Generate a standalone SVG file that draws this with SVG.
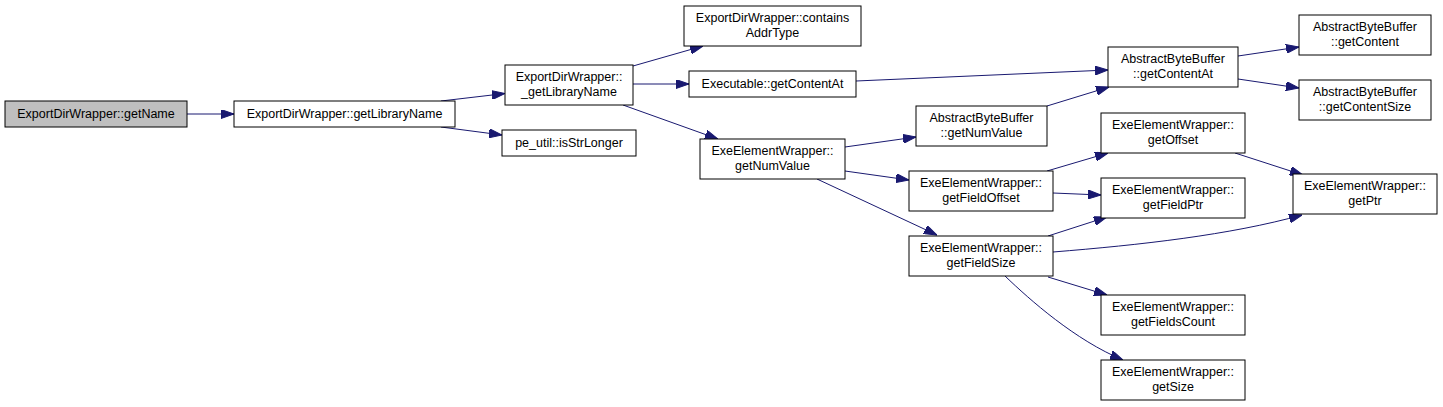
<svg xmlns="http://www.w3.org/2000/svg" width="1443" height="407" viewBox="0 0 1443 407">
<defs>
<marker id="arr" markerUnits="userSpaceOnUse" viewBox="0 0 13 9" refX="13" refY="4.5" markerWidth="13" markerHeight="9" orient="auto">
<path d="M0,0 L13,4.5 L0,9 z" fill="#191970" stroke="#191970" stroke-width="1"/>
</marker>
</defs>
<style>
.n rect{fill:#ffffff;stroke:#000000;stroke-width:1}
.n.root rect{fill:#bfbfbf}
.n text{font-family:"Liberation Sans",Arial,Helvetica,sans-serif;font-size:12.5px;fill:#000000;text-anchor:middle}
.e path{fill:none;stroke:#191970;stroke-width:1;marker-end:url(#arr)}
</style>
<rect width="1443" height="407" fill="#ffffff"/>
<g id="edges" class="e">
<path d="M187,114 L234,114"/>
<path d="M441,101 L505,93.5"/>
<path d="M441,127 L502,135"/>
<path d="M633,66 L703,46"/>
<path d="M633,84 L689,84"/>
<path d="M623,105 L718,139"/>
<path d="M856,81 L1108,70"/>
<path d="M1047,106 L1109,87"/>
<path d="M1238,56 L1299,47"/>
<path d="M1238,79 L1299,88"/>
<path d="M845,147 L916,137"/>
<path d="M845,171 L909,180"/>
<path d="M817,179 L937,235"/>
<path d="M1047,171 L1108,153"/>
<path d="M1053,193 L1101,195"/>
<path d="M1048,236 L1107,217"/>
<path d="M1053,252 C1140,245 1230,235 1302,215"/>
<path d="M1235,153 L1303,175"/>
<path d="M1048,277 L1107,295"/>
<path d="M1005,276 C1030,300 1075,340 1123,360"/>
</g>
<g id="n0" class="n root"><rect x="5" y="101" width="182" height="26"/><text x="96" y="118">ExportDirWrapper::getName</text></g>
<g id="n1" class="n"><rect x="234" y="101" width="221" height="26"/><text x="344.5" y="118">ExportDirWrapper::getLibraryName</text></g>
<g id="n2" class="n"><rect x="505" y="65" width="128" height="40"/><text x="569" y="81">ExportDirWrapper::</text><text x="569" y="96">_getLibraryName</text></g>
<g id="n3" class="n"><rect x="502" y="130" width="134" height="26"/><text x="569" y="147">pe_util::isStrLonger</text></g>
<g id="n4" class="n"><rect x="684" y="6" width="177" height="40"/><text x="772.5" y="22">ExportDirWrapper::contains</text><text x="772.5" y="37">AddrType</text></g>
<g id="n5" class="n"><rect x="689" y="71" width="167" height="26"/><text x="772.5" y="88">Executable::getContentAt</text></g>
<g id="n6" class="n"><rect x="700" y="139" width="145" height="40"/><text x="772.5" y="155">ExeElementWrapper::</text><text x="772.5" y="170">getNumValue</text></g>
<g id="n7" class="n"><rect x="1108" y="47" width="130" height="40"/><text x="1173" y="63">AbstractByteBuffer</text><text x="1173" y="78">::getContentAt</text></g>
<g id="n8" class="n"><rect x="916" y="106" width="131" height="40"/><text x="981.5" y="122">AbstractByteBuffer</text><text x="981.5" y="137">::getNumValue</text></g>
<g id="n9" class="n"><rect x="909" y="171" width="144" height="40"/><text x="981" y="187">ExeElementWrapper::</text><text x="981" y="202">getFieldOffset</text></g>
<g id="n10" class="n"><rect x="909" y="236" width="144" height="40"/><text x="981" y="252">ExeElementWrapper::</text><text x="981" y="267">getFieldSize</text></g>
<g id="n11" class="n"><rect x="1299" y="15" width="132" height="40"/><text x="1365" y="31">AbstractByteBuffer</text><text x="1365" y="46">::getContent</text></g>
<g id="n12" class="n"><rect x="1299" y="80" width="132" height="40"/><text x="1365" y="96">AbstractByteBuffer</text><text x="1365" y="111">::getContentSize</text></g>
<g id="n13" class="n"><rect x="1101" y="113" width="144" height="40"/><text x="1173" y="129">ExeElementWrapper::</text><text x="1173" y="144">getOffset</text></g>
<g id="n14" class="n"><rect x="1101" y="178" width="144" height="40"/><text x="1173" y="194">ExeElementWrapper::</text><text x="1173" y="209">getFieldPtr</text></g>
<g id="n15" class="n"><rect x="1101" y="295" width="144" height="40"/><text x="1173" y="311">ExeElementWrapper::</text><text x="1173" y="326">getFieldsCount</text></g>
<g id="n16" class="n"><rect x="1101" y="360" width="144" height="40"/><text x="1173" y="376">ExeElementWrapper::</text><text x="1173" y="391">getSize</text></g>
<g id="n17" class="n"><rect x="1293" y="174" width="144" height="40"/><text x="1365" y="190">ExeElementWrapper::</text><text x="1365" y="205">getPtr</text></g>
</svg>
